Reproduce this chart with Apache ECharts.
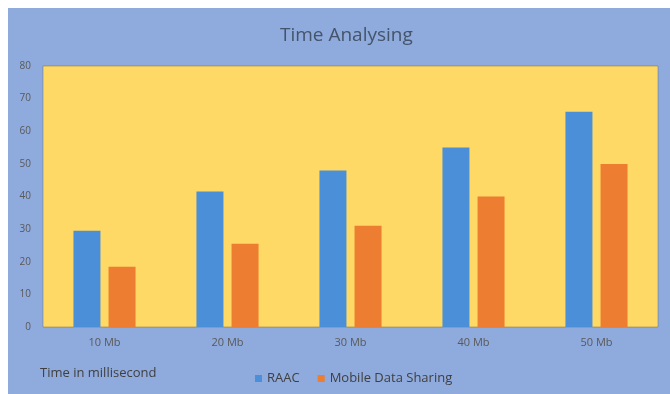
<!DOCTYPE html>
<html>
<head>
<meta charset="utf-8">
<script src="https://cdn.jsdelivr.net/npm/echarts@6/dist/echarts.min.js"></script>
<style>
	html, body { margin: 0; padding: 0; background: #FFFFFF; }
	#timechart { width: 670px; height: 394px; }
</style>
</head>
<body>
<div id="timechart"></div>
<script>
var sizes = ['10 Mb', '20 Mb', '30 Mb', '40 Mb', '50 Mb'];
var raac = [29.5, 41.5, 48, 55, 66];
var mobileSharing = [18.5, 25.5, 31, 40, 50];
var seriesNames = ['RAAC', 'Mobile Data Sharing'];

var chart = echarts.init(document.getElementById('timechart'));
var option = {
	backgroundColor: '#FFFFFF',
	animation: false,
	graphic: [{
		type: 'rect',
		z: -10,
		shape: { x: 8, y: 8, width: 662, height: 386 },
		style: { fill: '#8FAADC' }
	}, {
		type: 'text', // axis caption at bottom left
		left: 40,
		top: 367,
		style: {
			text: 'Time in millisecond',
			fill: '#404040',
			font: '13px "Open Sans"'
		}
	}],
	title: {
		text: 'Time Analysing',
		left: 275,
		top: 21,
		textStyle: {
			color: '#44546A',
			fontSize: 19,
			fontWeight: 'normal',
			fontFamily: 'Open Sans'
		}
	},
	legend: {
		data: seriesNames,
		left: 250,
		top: 367,
		itemWidth: 7,
		itemHeight: 7,
		itemGap: 18,
		icon: 'rect',
		textStyle: {
			color: '#404040',
			fontSize: 13,
			fontFamily: 'Open Sans'
		}
	},
	grid: {
		left: 43,
		top: 66,
		right: 12,
		bottom: 67,
		show: true,
		backgroundColor: '#FFD966',
		borderColor: 'rgba(100,100,100,0.45)',
		borderWidth: 1
	},
	xAxis: {
		type: 'category',
		data: sizes,
		axisLine: { show: false },
		axisTick: { show: false },
		axisLabel: {
			color: '#595959',
			fontSize: 11,
			fontFamily: 'Open Sans',
			margin: 10
		}
	},
	yAxis: {
		type: 'value',
		min: 0,
		max: 80,
		interval: 10,
		axisLine: { show: false },
		axisTick: { show: false },
		splitLine: { show: false },
		axisLabel: {
			color: '#595959',
			fontSize: 10,
			fontFamily: 'Open Sans',
			margin: 12
		}
	},
	series: [{
		name: seriesNames[0],
		type: 'bar',
		data: raac,
		barWidth: 27,
		barGap: '30%',
		itemStyle: { color: '#4A8FD8' }
	}, {
		name: seriesNames[1],
		type: 'bar',
		data: mobileSharing,
		barWidth: 27,
		itemStyle: { color: '#ED7D31' }
	}]
};
chart.setOption(option);
</script>
</body>
</html>
